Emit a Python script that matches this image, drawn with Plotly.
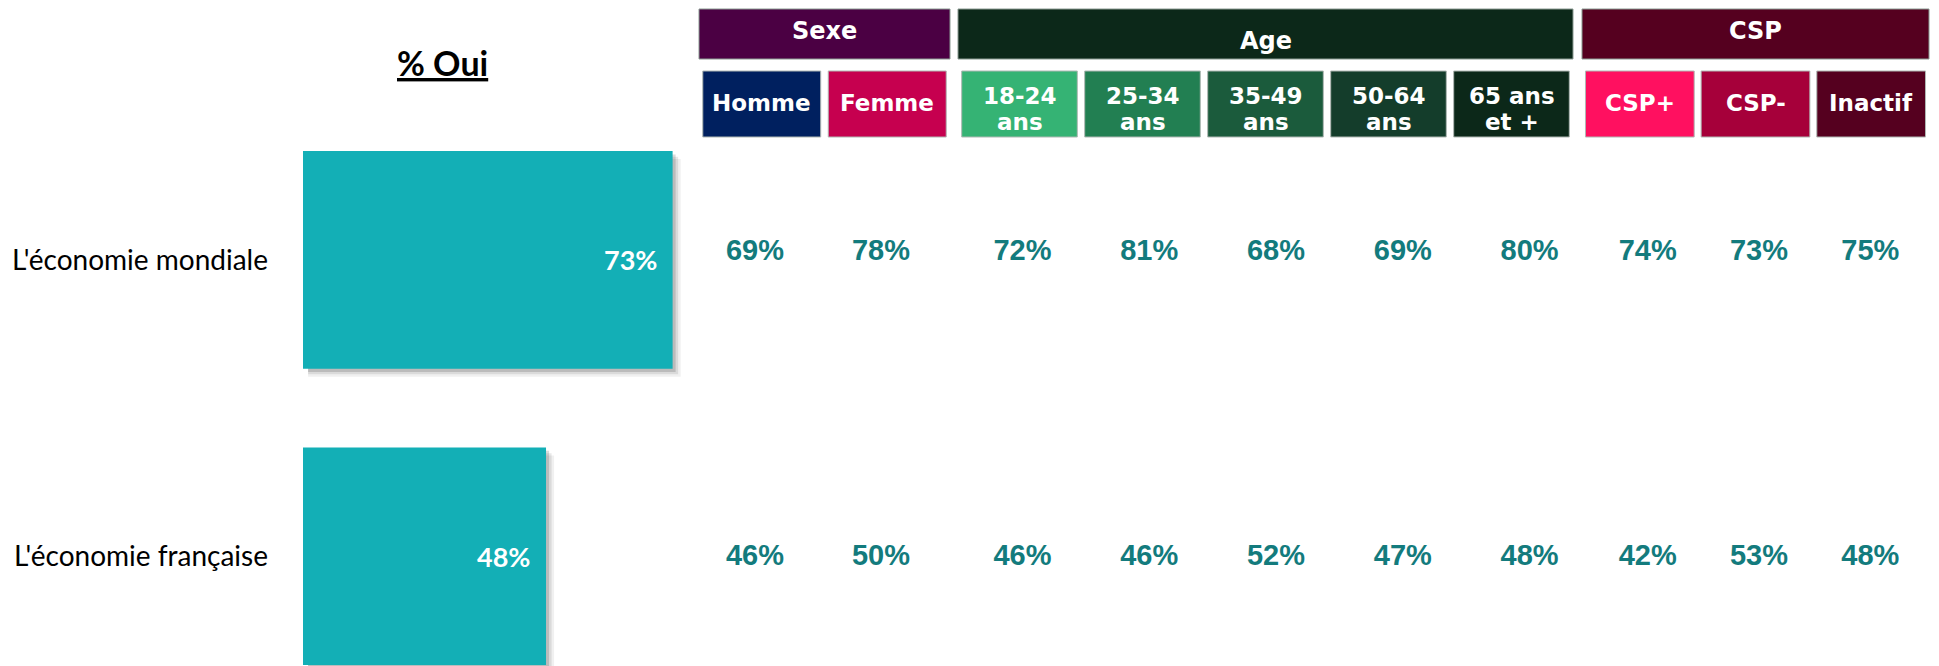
import plotly.graph_objects as go

# page offset (default body margin of the html page)
OX, OY = 8, 8
W, H = 1931, 658

# ---------------- data ----------------
rows = ["L'économie mondiale", "L'économie française"]
total_oui = [73, 48]

group_names = ["Sexe", "Age", "CSP"]
subgroups = [
    ["Homme", "Femme"],
    ["18-24 ans", "25-34 ans", "35-49 ans", "50-64 ans", "65 ans et +"],
    ["CSP+", "CSP-", "Inactif"],
]
sub_display = {
    "Homme": ["Homme"], "Femme": ["Femme"],
    "18-24 ans": ["18-24", "ans"], "25-34 ans": ["25-34", "ans"],
    "35-49 ans": ["35-49", "ans"], "50-64 ans": ["50-64", "ans"],
    "65 ans et +": ["65 ans", "et +"],
    "CSP+": ["CSP+"], "CSP-": ["CSP-"], "Inactif": ["Inactif"],
}
mondiale_vals = [69, 78, 72, 81, 68, 69, 80, 74, 73, 75]
francaise_vals = [46, 50, 46, 46, 52, 47, 48, 42, 53, 48]

# ---------------- style ----------------
TEAL = "#13afb6"
VAL_COLOR = "#137b7d"
group_colors = ["#4b0043", "#0c2819", "#55001f"]
sub_colors = [
    ["#00205f", "#c6004f"],
    ["#35b374", "#227f52", "#1b5b3c", "#143d2b", "#0c2819"],
    ["#ff1060", "#a6003a", "#55001f"],
]
group_domains_px = [(699, 950), (958, 1573), (1582, 1929)]   # header boxes (page px)
value_domains_px = [(692, 944), (959, 1593), (1592, 1926)]   # value columns (page px)
group_text_y_px = [31, 41, 31]
HEADER_FONT = "DejaVu Sans"
CAL_FONT = "Lato"


def xp(px):
    return (px - OX) / W


def yp(py):
    return 1 - (py - OY) / H


fig = go.Figure()

# bars
fig.add_trace(go.Bar(
    y=rows, x=total_oui, orientation="h", marker=dict(color=TEAL, line=dict(width=0)),
    width=0.734, xaxis="x", yaxis="y", hoverinfo="skip", showlegend=False,
))

# values per subgroup
offset = 0
for g, subs in enumerate(subgroups):
    n = len(subs)
    v1 = mondiale_vals[offset:offset + n]
    v2 = francaise_vals[offset:offset + n]
    offset += n
    fig.add_trace(go.Scatter(
        x=subs + subs,
        y=[rows[0]] * n + [rows[1]] * n,
        text=[f"<b>{v}%</b>" for v in v1 + v2],
        mode="text",
        textposition="middle center",
        textfont=dict(family="Liberation Sans, Arial", size=29, color=VAL_COLOR),
        xaxis=f"x{g + 5}", yaxis="y2", hoverinfo="skip", showlegend=False,
    ))

shapes = []
annotations = []

# bar shadows + labels
for i, v in enumerate(total_oui):
    for dx, dy, a in [(1.6, 0.027, 0.06), (1.1, 0.019, 0.09), (0.6, 0.011, 0.14)]:
        shapes.append(dict(
            type="rect", xref="x", yref="y", layer="below",
            x0=1.0, x1=v + dx, y0=i - 0.367 + dy, y1=i + 0.367 + dy,
            fillcolor=f"rgba(0,0,0,{a})", line=dict(width=0),
        ))
    annotations.append(dict(
        xref="x", yref="y", x=v, y=rows[i], xanchor="right", yanchor="middle",
        xshift=-14, text=f"<b>{v}%</b>", showarrow=False,
        font=dict(family=CAL_FONT, size=27, color="white"),
    ))

# header boxes
for g, subs in enumerate(subgroups):
    xa = f"x{g + 2}"
    shapes.append(dict(
        type="rect", xref=f"{xa} domain", yref="paper",
        x0=0, x1=1, y0=yp(59), y1=yp(9),
        fillcolor=group_colors[g], line=dict(color="#8a9a92", width=1),
    ))
    annotations.append(dict(
        xref=f"{xa} domain", yref="paper", x=0.5, y=yp(group_text_y_px[g]),
        text=f"<b>{group_names[g]}</b>", showarrow=False,
        xanchor="center", yanchor="middle",
        font=dict(family=HEADER_FONT, size=24, color="white"),
    ))
    for j, s in enumerate(subs):
        shapes.append(dict(
            type="rect", xref=xa, yref="paper",
            x0=j - 0.47, x1=j + 0.47, y0=yp(137), y1=yp(71),
            fillcolor=sub_colors[g][j], line=dict(color="#b0b8b4", width=1),
        ))
        lines = sub_display[s]
        ys = [103] if len(lines) == 1 else [96, 122]
        for line, ly in zip(lines, ys):
            annotations.append(dict(
                xref=xa, yref="paper", x=s, y=yp(ly),
                text=f"<b>{line}</b>", showarrow=False,
                xanchor="center", yanchor="middle",
                font=dict(family=HEADER_FONT, size=23, color="white"),
            ))

# title
annotations.append(dict(
    xref="paper", yref="paper", x=xp(442), y=yp(62),
    text="<b><u>% Oui</u></b>", showarrow=False, xanchor="center", yanchor="middle",
    font=dict(family=CAL_FONT, size=34, color="black"),
))

# bar axis geometry (page px): bar origin 303, 5.063 px per %, row centres 259.9 / 556.3
pitch_bars = 296.4
c0_bars = 259.9 - OY
pitch_vals = 304.7
c0_vals = 253 - OY

layout_axes = dict(
    xaxis=dict(domain=[xp(303), xp(303 + 100 * 5.063)], range=[0, 100], visible=False,
               fixedrange=True),
    yaxis=dict(domain=[0, 1], type="category", categoryorder="array", categoryarray=rows,
               range=[(H - c0_bars) / pitch_bars, -c0_bars / pitch_bars],
               showgrid=False, zeroline=False, showline=False,
               ticks="", ticklabelstandoff=34, anchor="x",
               tickfont=dict(family=CAL_FONT, size=28, color="black")),
    yaxis2=dict(domain=[0, 1], type="category", categoryorder="array", categoryarray=rows,
                range=[(H - c0_vals) / pitch_vals, -c0_vals / pitch_vals],
                overlaying="y", visible=False, anchor="x5"),
)
for g, subs in enumerate(subgroups):
    d0, d1 = group_domains_px[g]
    layout_axes[f"xaxis{g + 2}"] = dict(
        domain=[xp(d0), xp(d1)], type="category", categoryorder="array",
        categoryarray=subs, range=[-0.5, len(subs) - 0.5], visible=False, anchor="y2",
    )
    v0, v1_ = value_domains_px[g]
    layout_axes[f"xaxis{g + 5}"] = dict(
        domain=[xp(v0), xp(v1_)], type="category", categoryorder="array",
        categoryarray=subs, range=[-0.5, len(subs) - 0.5], visible=False, anchor="y2",
    )

fig.update_layout(
    width=W, height=H, margin=dict(l=0, r=0, t=0, b=0),
    paper_bgcolor="white", plot_bgcolor="white",
    shapes=shapes, annotations=annotations, showlegend=False,
    **layout_axes,
)

fig.write_html("out.html", config={"displayModeBar": False})
